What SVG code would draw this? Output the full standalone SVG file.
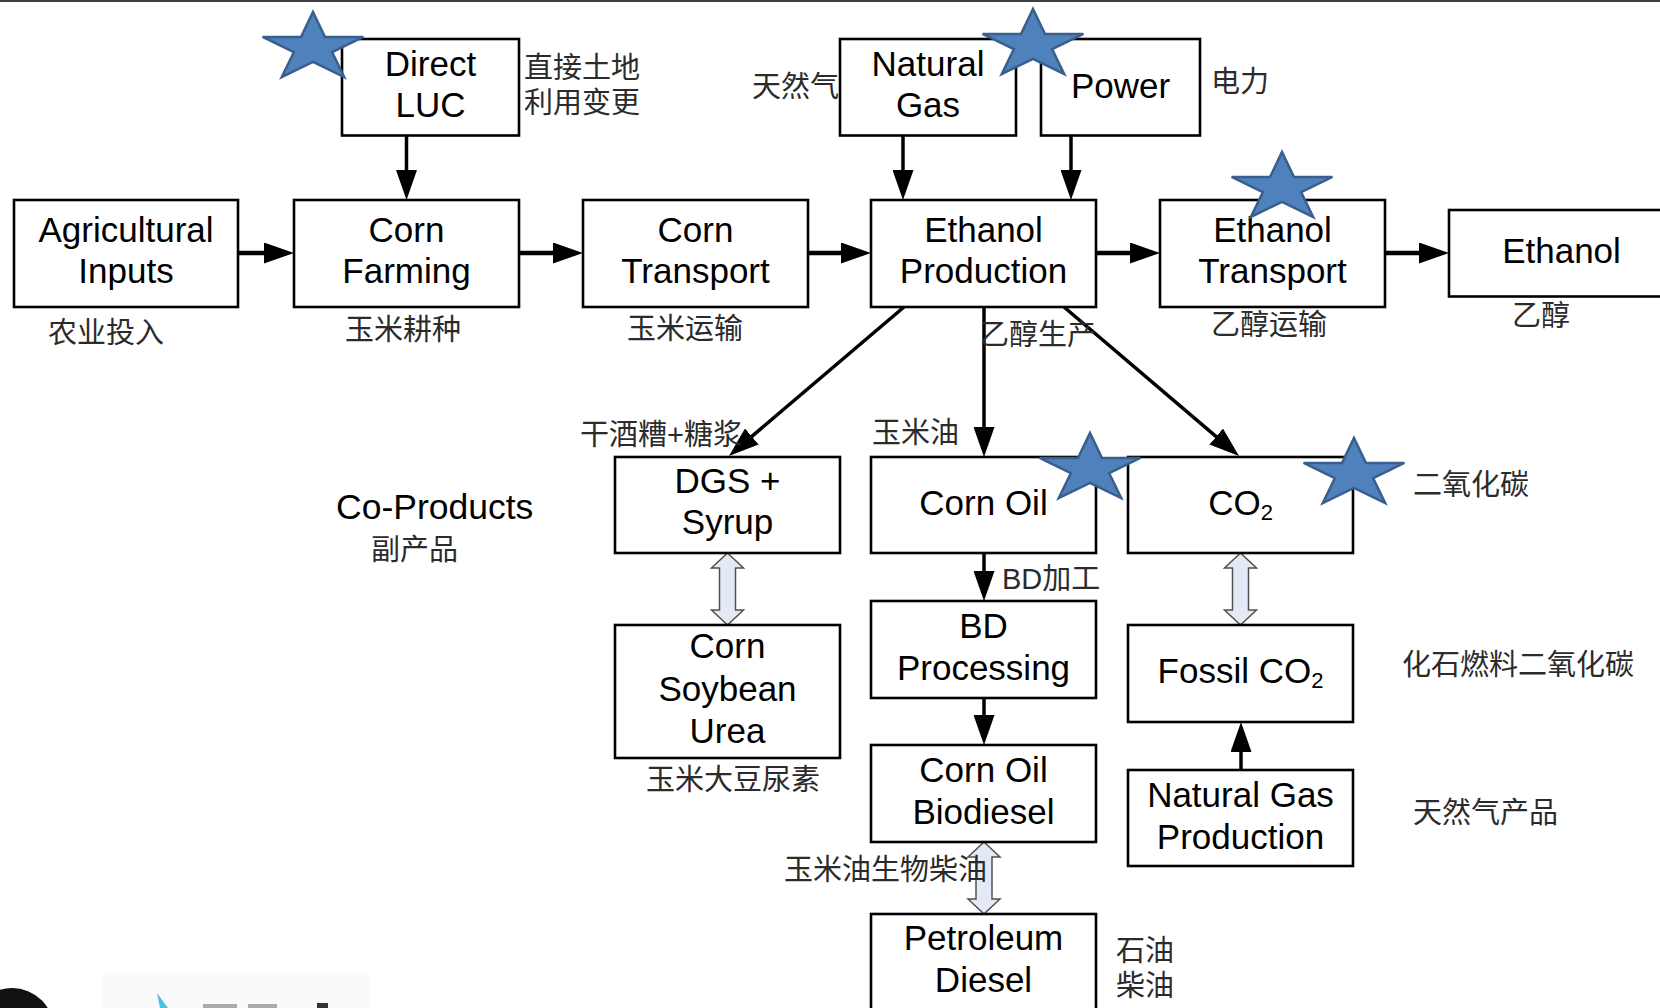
<svg xmlns="http://www.w3.org/2000/svg" xmlns:xlink="http://www.w3.org/1999/xlink" width="1660" height="1008" viewBox="0 0 1660 1008">
<style>
.box{fill:#fff;stroke:#000;stroke-width:2.6}
.en{font-family:"Liberation Sans",Arial,sans-serif;font-size:35px;fill:#000;text-anchor:middle}
.sub{font-size:22px}
.cn{font-family:"Liberation Sans","Noto Sans CJK SC","Noto Sans CJK TC",sans-serif;font-size:29px;fill:#2b2b2b}
.con{stroke:#000;stroke-width:3.5;fill:none;marker-end:url(#ah)}
.conh{stroke:#000;stroke-width:4.5;fill:none;marker-end:url(#ah)}
.dbl{fill:#E4EAF5;stroke:#505050;stroke-width:1.5}
.star{fill:#4F81BD;stroke:#3A5F8E;stroke-width:2.5;stroke-linejoin:miter}
</style>
<defs>
<marker id="ah" viewBox="0 0 30 21" refX="5" refY="10.5" markerWidth="30" markerHeight="21" markerUnits="userSpaceOnUse" orient="auto">
<path d="M0,0 L30,10.5 L0,21 Z" fill="#000"/>
</marker>
<polygon id="star" points="0,-36 11.9,-11.1 50.4,-11.1 19.2,4.2 31.2,29.1 0,13.8 -31.2,29.1 -19.2,4.2 -50.4,-11.1 -11.9,-11.1"/>
<polygon id="dblarrow" points="0,0 16,15 8,15 8,57 16,57 0,72 -16,57 -8,57 -8,15 -16,15"/>
</defs>
<rect x="0" y="0" width="1660" height="1008" fill="#fff"/>
<rect x="0" y="0" width="1660" height="2" fill="#404040"/>

<!-- watermark fragments bottom-left -->
<g id="watermark">
<rect x="103" y="973" width="267" height="35" fill="#fafafa"/>
<circle cx="12" cy="1030" r="42" fill="#111"/>
<path d="M157,993 L168,1008 L160,1008 Z" fill="#4FC1E0"/>
<rect x="203" y="1004" width="34" height="4" fill="#aaa"/>
<rect x="248" y="1004" width="29" height="4" fill="#aaa"/>
<rect x="317" y="1003" width="11" height="5" fill="#333"/>
</g>

<g id="connectors">
<line class="con" x1="406.5" y1="136" x2="406.5" y2="175"/>
<line class="conh" x1="238" y1="253" x2="269" y2="253"/>
<line class="conh" x1="519" y1="253" x2="558" y2="253"/>
<line class="conh" x1="808" y1="253" x2="846" y2="253"/>
<line class="conh" x1="1096" y1="253" x2="1135" y2="253"/>
<line class="conh" x1="1385" y1="253" x2="1424" y2="253"/>
<line class="con" x1="903" y1="136" x2="903" y2="175"/>
<line class="con" x1="1071" y1="136" x2="1071" y2="175"/>
<line class="con" x1="904" y1="307" x2="748" y2="439.7"/>
<line class="con" x1="984" y1="307" x2="984" y2="432"/>
<line class="con" x1="1064" y1="307" x2="1220" y2="439.8"/>
<line class="con" x1="984" y1="553" x2="984" y2="576"/>
<line class="con" x1="984" y1="698" x2="984" y2="720"/>
<line class="con" x1="1241" y1="770" x2="1241" y2="747"/>
<use xlink:href="#dblarrow" href="#dblarrow" class="dbl" x="727.5" y="553"/>
<use xlink:href="#dblarrow" href="#dblarrow" class="dbl" x="1240.5" y="553"/>
<use xlink:href="#dblarrow" href="#dblarrow" class="dbl" x="984" y="842"/>
</g>

<g id="labels-cn">
<text class="cn" x="524" y="78">直接土地</text>
<text class="cn" x="524" y="113">利用变更</text>
<text class="cn" x="48" y="343">农业投入</text>
<text class="cn" x="345" y="340">玉米耕种</text>
<text class="cn" x="627" y="339">玉米运输</text>
<text class="cn" x="752" y="97">天然气</text>
<text class="cn" x="1211" y="92">电力</text>
<text class="cn" x="980" y="345">乙醇生产</text>
<text class="cn" x="1211" y="335">乙醇运输</text>
<text class="cn" x="1512" y="326">乙醇</text>
<text class="cn" x="580" y="445">干酒糟+糖浆</text>
<text class="cn" x="371" y="560">副产品</text>
<text class="cn" x="646" y="790">玉米大豆尿素</text>
<text class="cn" x="872" y="443">玉米油</text>
<text class="cn" x="1002" y="589">BD加工</text>
<text class="cn" x="1413" y="495">二氧化碳</text>
<text class="cn" x="1402" y="675">化石燃料二氧化碳</text>
<text class="cn" x="1413" y="823">天然气产品</text>
<text class="cn" x="784" y="880">玉米油生物柴油</text>
<text class="cn" x="1116" y="961">石油</text>
<text class="cn" x="1116" y="996">柴油</text>
</g>

<g id="node-direct-luc"><rect class="box" x="342" y="39" width="177" height="96.5"/><text class="en" x="430.5" y="75.75">Direct</text><text class="en" x="430.5" y="116.75">LUC</text></g>
<g id="node-agricultural-inputs"><rect class="box" x="14" y="200" width="224" height="107"/><text class="en" x="126" y="242">Agricultural</text><text class="en" x="126" y="283">Inputs</text></g>
<g id="node-corn-farming"><rect class="box" x="294" y="200" width="225" height="107"/><text class="en" x="406.5" y="242">Corn</text><text class="en" x="406.5" y="283">Farming</text></g>
<g id="node-corn-transport"><rect class="box" x="583" y="200" width="225" height="107"/><text class="en" x="695.5" y="242">Corn</text><text class="en" x="695.5" y="283">Transport</text></g>
<g id="node-ethanol-production"><rect class="box" x="871" y="200" width="225" height="107"/><text class="en" x="983.5" y="242">Ethanol</text><text class="en" x="983.5" y="283">Production</text></g>
<g id="node-ethanol-transport"><rect class="box" x="1160" y="200" width="225" height="107"/><text class="en" x="1272.5" y="242">Ethanol</text><text class="en" x="1272.5" y="283">Transport</text></g>
<g id="node-ethanol"><rect class="box" x="1449" y="210" width="225" height="86.5"/><text class="en" x="1561.5" y="263">Ethanol</text></g>
<g id="node-natural-gas"><rect class="box" x="840" y="39" width="176" height="96.5"/><text class="en" x="928" y="75.75">Natural</text><text class="en" x="928" y="116.75">Gas</text></g>
<g id="node-power"><rect class="box" x="1041" y="39" width="159" height="96.5"/><text class="en" x="1120.5" y="98">Power</text></g>
<g id="node-dgs-syrup"><rect class="box" x="615" y="457" width="225" height="96"/><text class="en" x="727.5" y="492.5">DGS +</text><text class="en" x="727.5" y="533.5">Syrup</text></g>
<g id="node-corn-oil"><rect class="box" x="871" y="457" width="225" height="96"/><text class="en" x="983.5" y="515">Corn Oil</text></g>
<g id="node-co2"><rect class="box" x="1128" y="457" width="225" height="96"/><text class="en" x="1240.5" y="515">CO<tspan class="sub" dy="5">2</tspan></text></g>
<g id="node-corn-soybean-urea"><rect class="box" x="615" y="625" width="225" height="133"/><text class="en" x="727.5" y="658">Corn</text><text class="en" x="727.5" y="701">Soybean</text><text class="en" x="727.5" y="743">Urea</text></g>
<g id="node-bd-processing"><rect class="box" x="871" y="601" width="225" height="97"/><text class="en" x="983.5" y="637.5">BD</text><text class="en" x="983.5" y="679.5">Processing</text></g>
<g id="node-corn-oil-biodiesel"><rect class="box" x="871" y="745" width="225" height="97"/><text class="en" x="983.5" y="782">Corn Oil</text><text class="en" x="983.5" y="824">Biodiesel</text></g>
<g id="node-fossil-co2"><rect class="box" x="1128" y="625" width="225" height="97"/><text class="en" x="1240.5" y="683">Fossil CO<tspan class="sub" dy="5">2</tspan></text></g>
<g id="node-natural-gas-production"><rect class="box" x="1128" y="770" width="225" height="96"/><text class="en" x="1240.5" y="806.5">Natural Gas</text><text class="en" x="1240.5" y="848.5">Production</text></g>
<g id="node-petroleum-diesel"><rect class="box" x="871" y="914" width="225" height="100"/><text class="en" x="983.5" y="950">Petroleum</text><text class="en" x="983.5" y="991.5">Diesel</text></g>
<g id="node-co-products"><text class="en" x="336" y="519" style="text-anchor:start;font-size:35.5px">Co-Products</text></g>

<g id="stars">
<use xlink:href="#star" href="#star" class="star" x="313" y="48"/>
<use xlink:href="#star" href="#star" class="star" x="1033" y="45"/>
<use xlink:href="#star" href="#star" class="star" x="1282" y="188"/>
<use xlink:href="#star" href="#star" class="star" x="1090" y="469"/>
<use xlink:href="#star" href="#star" class="star" x="1354" y="474"/>
</g>
</svg>
